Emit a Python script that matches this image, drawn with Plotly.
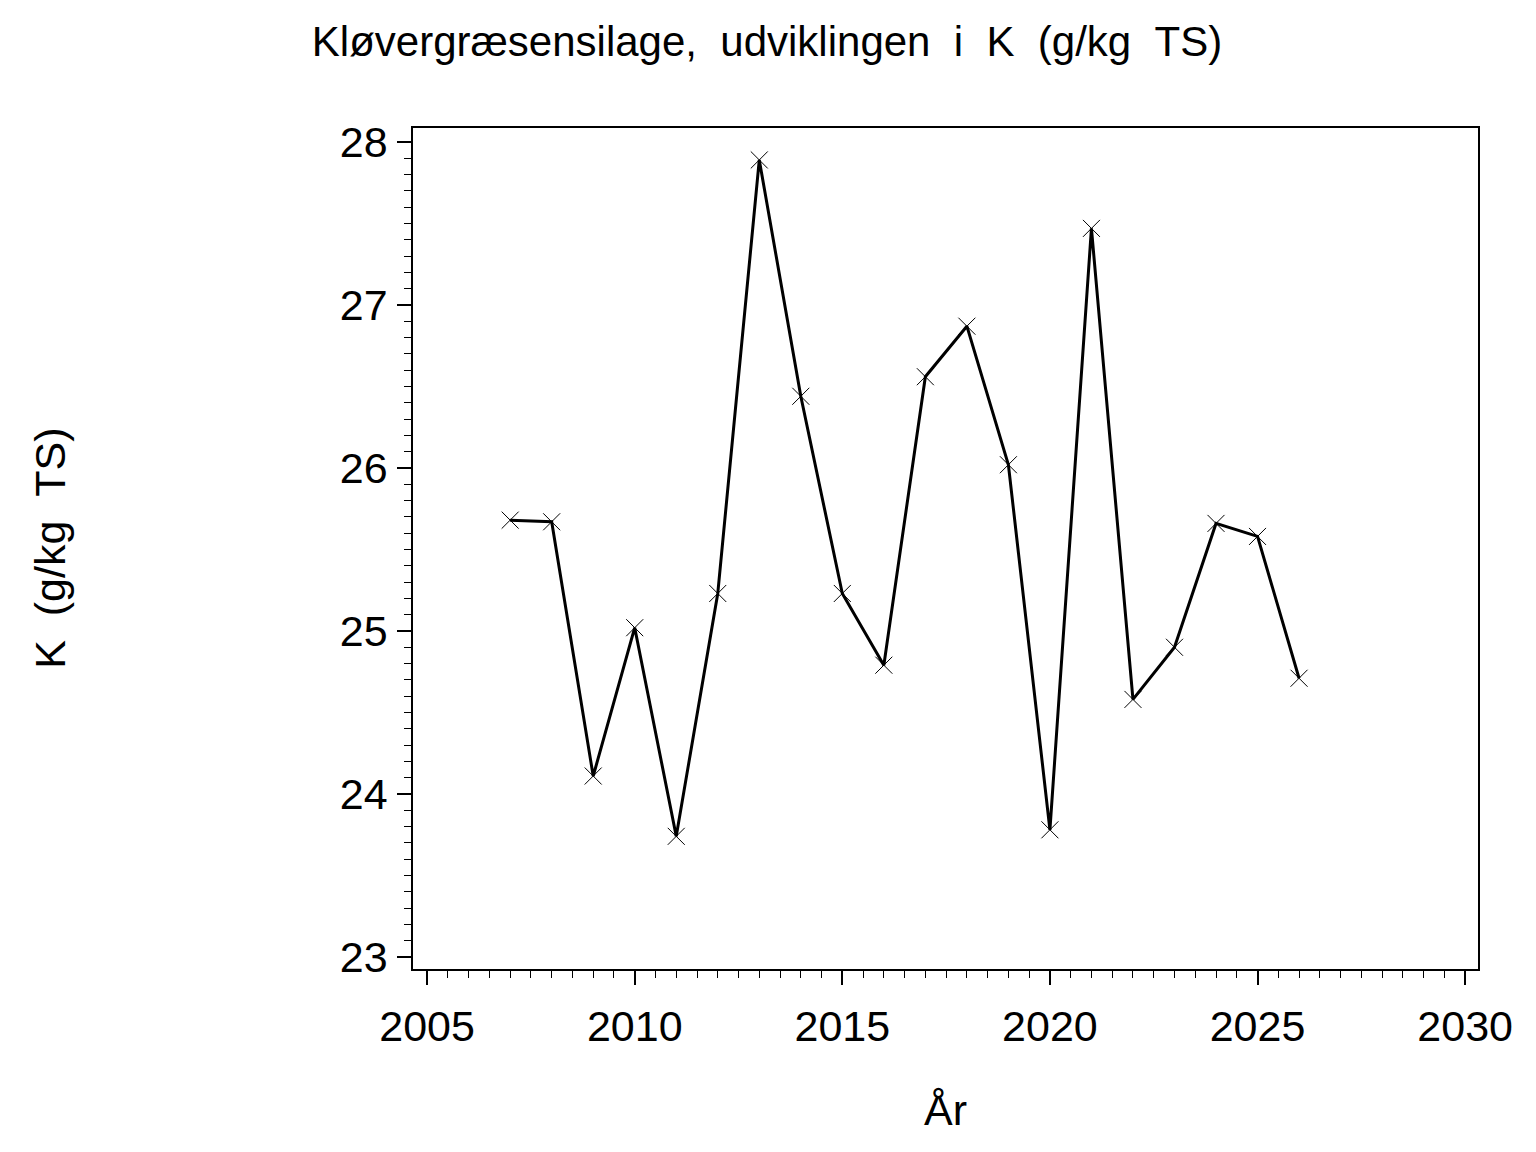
import plotly.graph_objects as go

# Data
years = [2007, 2008, 2009, 2010, 2011, 2012, 2013, 2014, 2015, 2016,
         2017, 2018, 2019, 2020, 2021, 2022, 2023, 2024, 2025, 2026]
k_values = [25.68, 25.67, 24.11, 25.02, 23.74, 25.23, 27.89, 26.44, 25.23, 24.79,
            26.56, 26.87, 26.02, 23.78, 27.47, 24.58, 24.90, 25.66, 25.58, 24.71]

x_ticks = [2005, 2010, 2015, 2020, 2025, 2030]
y_ticks = [23, 24, 25, 26, 27, 28]

FONT = "Liberation Sans, Arial, sans-serif"
SP = "\u00a0\u00a0"

fig = go.Figure()

fig.add_trace(go.Scatter(
    x=years, y=k_values,
    mode='lines+markers',
    line=dict(color='black', width=3),
    marker=dict(symbol='x-thin-open', size=17,
                line=dict(color='black', width=1)),
    showlegend=False
))

axis_common = dict(
    showgrid=False, zeroline=False,
    showline=True, linecolor='black', linewidth=1.5, mirror=True,
    ticks='outside', ticklen=14, tickwidth=1.5, tickcolor='black',
    tickfont=dict(family=FONT, size=43, color='black'),
)

fig.update_xaxes(
    range=[2004.66, 2030.31],
    tickvals=x_ticks,
    minor=dict(dtick=0.5, ticks='outside', ticklen=7, tickwidth=1.2, tickcolor='black'),
    ticklabelstandoff=5,
    **axis_common
)
fig.update_yaxes(
    range=[22.926, 28.086],
    tickvals=y_ticks,
    minor=dict(dtick=0.1, ticks='outside', ticklen=7, tickwidth=1.2, tickcolor='black'),
    ticklabelstandoff=1,
    **axis_common
)

fig.add_annotation(
    text="K" + SP + "(g/kg" + SP + "TS)", textangle=-90,
    xref='paper', yref='paper', x=-0.3415, y=0.5,
    xanchor='center', yanchor='middle', showarrow=False,
    font=dict(family=FONT, size=43, color='black')
)
fig.add_annotation(
    text="År",
    xref='paper', yref='paper', x=0.5, y=-0.168,
    xanchor='center', yanchor='middle', showarrow=False,
    font=dict(family=FONT, size=43, color='black')
)

fig.update_layout(
    title=dict(
        text=SP.join(["Kløvergræsensilage,", "udviklingen", "i", "K", "(g/kg", "TS)"]),
        x=759 / 1536, xref='container', xanchor='center',
        y=1 - 33 / 1152, yref='container', yanchor='middle',
        font=dict(family=FONT, size=42, color='black')
    ),
    width=1536, height=1152,
    margin=dict(l=405, r=66, t=120, b=191),
    paper_bgcolor='white', plot_bgcolor='white',
    font=dict(family=FONT, color='black'),
)

fig.write_html("out.html")
